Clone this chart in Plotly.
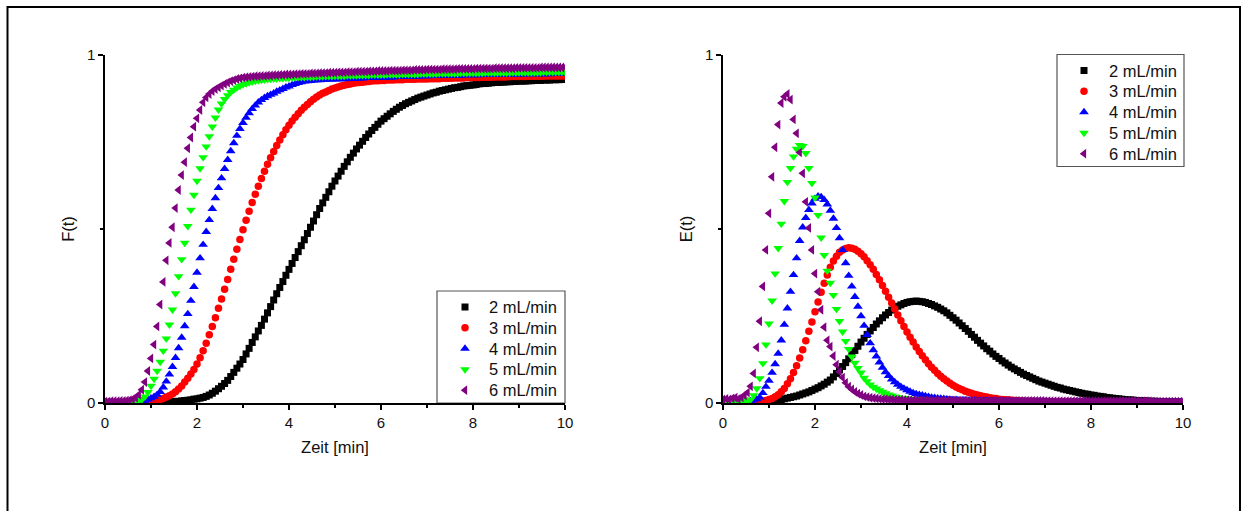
import plotly.graph_objects as go

# Sampling times (min), 4 s interval
TIME_MIN = [
    0.000, 0.067, 0.133, 0.200, 0.267, 0.333, 0.400, 0.467, 0.533, 0.600, 0.667, 0.733, 0.800, 0.867, 0.933,
    1.000, 1.067, 1.133, 1.200, 1.267, 1.333, 1.400, 1.467, 1.533, 1.600, 1.667, 1.733, 1.800, 1.867, 1.933,
    2.000, 2.067, 2.133, 2.200, 2.267, 2.333, 2.400, 2.467, 2.533, 2.600, 2.667, 2.733, 2.800, 2.867, 2.933,
    3.000, 3.067, 3.133, 3.200, 3.267, 3.333, 3.400, 3.467, 3.533, 3.600, 3.667, 3.733, 3.800, 3.867, 3.933,
    4.000, 4.067, 4.133, 4.200, 4.267, 4.333, 4.400, 4.467, 4.533, 4.600, 4.667, 4.733, 4.800, 4.867, 4.933,
    5.000, 5.067, 5.133, 5.200, 5.267, 5.333, 5.400, 5.467, 5.533, 5.600, 5.667, 5.733, 5.800, 5.867, 5.933,
    6.000, 6.067, 6.133, 6.200, 6.267, 6.333, 6.400, 6.467, 6.533, 6.600, 6.667, 6.733, 6.800, 6.867, 6.933,
    7.000, 7.067, 7.133, 7.200, 7.267, 7.333, 7.400, 7.467, 7.533, 7.600, 7.667, 7.733, 7.800, 7.867, 7.933,
    8.000, 8.067, 8.133, 8.200, 8.267, 8.333, 8.400, 8.467, 8.533, 8.600, 8.667, 8.733, 8.800, 8.867, 8.933,
    9.000, 9.067, 9.133, 9.200, 9.267, 9.333, 9.400, 9.467, 9.533, 9.600, 9.667, 9.733, 9.800, 9.867, 9.933,
    10.000,
]

FLOW_LABELS = ["2 mL/min", "3 mL/min", "4 mL/min", "5 mL/min", "6 mL/min"]

# Cumulative residence time distribution F(t)
F_2 = [
    0.000, 0.000, 0.000, 0.000, 0.000, 0.000, 0.000, 0.000, 0.000, 0.000, 0.000, 0.000, 0.001, 0.001, 0.001,
    0.001, 0.001, 0.002, 0.002, 0.002, 0.003, 0.003, 0.004, 0.004, 0.005, 0.006, 0.007, 0.008, 0.009, 0.011,
    0.012, 0.014, 0.016, 0.019, 0.023, 0.028, 0.034, 0.041, 0.048, 0.056, 0.065, 0.076, 0.088, 0.100, 0.112,
    0.125, 0.141, 0.157, 0.174, 0.190, 0.207, 0.223, 0.241, 0.259, 0.277, 0.296, 0.314, 0.332, 0.349, 0.367,
    0.384, 0.401, 0.418, 0.435, 0.452, 0.469, 0.487, 0.505, 0.523, 0.541, 0.559, 0.575, 0.591, 0.607, 0.623,
    0.638, 0.652, 0.666, 0.680, 0.693, 0.706, 0.718, 0.730, 0.741, 0.752, 0.763, 0.773, 0.783, 0.792, 0.801,
    0.810, 0.817, 0.824, 0.831, 0.838, 0.844, 0.850, 0.855, 0.860, 0.864, 0.868, 0.872, 0.876, 0.879, 0.882,
    0.885, 0.888, 0.891, 0.893, 0.896, 0.898, 0.900, 0.902, 0.904, 0.906, 0.907, 0.909, 0.911, 0.912, 0.913,
    0.914, 0.915, 0.917, 0.918, 0.918, 0.919, 0.920, 0.921, 0.921, 0.922, 0.922, 0.923, 0.923, 0.924, 0.924,
    0.925, 0.925, 0.925, 0.926, 0.926, 0.927, 0.927, 0.927, 0.928, 0.928, 0.928, 0.929, 0.929, 0.929, 0.930,
    0.930,
]
F_3 = [
    0.000, 0.000, 0.000, 0.000, 0.000, 0.000, 0.000, 0.000, 0.000, 0.000, 0.000, 0.001, 0.001, 0.002, 0.003,
    0.004, 0.005, 0.007, 0.010, 0.013, 0.017, 0.021, 0.026, 0.032, 0.040, 0.049, 0.060, 0.071, 0.083, 0.096,
    0.112, 0.130, 0.150, 0.172, 0.196, 0.220, 0.245, 0.272, 0.299, 0.327, 0.355, 0.384, 0.413, 0.442, 0.470,
    0.498, 0.525, 0.551, 0.576, 0.600, 0.623, 0.645, 0.666, 0.686, 0.705, 0.723, 0.740, 0.756, 0.771, 0.785,
    0.798, 0.810, 0.821, 0.831, 0.841, 0.850, 0.858, 0.866, 0.873, 0.879, 0.885, 0.890, 0.894, 0.898, 0.902,
    0.905, 0.908, 0.911, 0.913, 0.915, 0.917, 0.919, 0.920, 0.921, 0.922, 0.923, 0.924, 0.925, 0.926, 0.926,
    0.927, 0.927, 0.928, 0.928, 0.928, 0.929, 0.929, 0.929, 0.930, 0.930, 0.930, 0.930, 0.931, 0.931, 0.931,
    0.931, 0.932, 0.932, 0.932, 0.932, 0.933, 0.933, 0.933, 0.933, 0.934, 0.934, 0.934, 0.934, 0.935, 0.935,
    0.935, 0.935, 0.935, 0.936, 0.936, 0.936, 0.936, 0.937, 0.937, 0.937, 0.937, 0.937, 0.938, 0.938, 0.938,
    0.938, 0.938, 0.938, 0.939, 0.939, 0.939, 0.939, 0.939, 0.939, 0.940, 0.940, 0.940, 0.940, 0.940, 0.940,
    0.940,
]
F_4 = [
    0.002, 0.002, 0.002, 0.002, 0.002, 0.002, 0.002, 0.002, 0.002, 0.003, 0.004, 0.005, 0.006, 0.007, 0.010,
    0.014, 0.018, 0.024, 0.032, 0.045, 0.062, 0.082, 0.104, 0.130, 0.158, 0.188, 0.221, 0.256, 0.294, 0.334,
    0.375, 0.416, 0.455, 0.492, 0.526, 0.558, 0.589, 0.618, 0.646, 0.673, 0.699, 0.724, 0.747, 0.768, 0.788,
    0.805, 0.820, 0.833, 0.845, 0.855, 0.864, 0.871, 0.877, 0.882, 0.886, 0.890, 0.895, 0.899, 0.903, 0.907,
    0.910, 0.914, 0.917, 0.920, 0.922, 0.924, 0.925, 0.926, 0.927, 0.928, 0.928, 0.929, 0.929, 0.930, 0.930,
    0.930, 0.931, 0.931, 0.931, 0.932, 0.932, 0.932, 0.933, 0.933, 0.933, 0.934, 0.934, 0.934, 0.935, 0.935,
    0.935, 0.935, 0.936, 0.936, 0.936, 0.937, 0.937, 0.937, 0.937, 0.938, 0.938, 0.938, 0.938, 0.939, 0.939,
    0.939, 0.939, 0.940, 0.940, 0.940, 0.940, 0.940, 0.941, 0.941, 0.941, 0.941, 0.941, 0.942, 0.942, 0.942,
    0.942, 0.942, 0.942, 0.943, 0.943, 0.943, 0.943, 0.943, 0.943, 0.944, 0.944, 0.944, 0.944, 0.944, 0.944,
    0.944, 0.944, 0.945, 0.945, 0.945, 0.945, 0.945, 0.945, 0.945, 0.945, 0.945, 0.946, 0.946, 0.946, 0.946,
    0.946,
]
F_5 = [
    0.002, 0.002, 0.002, 0.002, 0.002, 0.002, 0.002, 0.002, 0.002, 0.003, 0.004, 0.006, 0.010, 0.018, 0.031,
    0.049, 0.069, 0.092, 0.118, 0.150, 0.185, 0.225, 0.268, 0.315, 0.364, 0.413, 0.460, 0.508, 0.555, 0.598,
    0.638, 0.674, 0.706, 0.737, 0.766, 0.794, 0.820, 0.843, 0.860, 0.873, 0.884, 0.893, 0.900, 0.906, 0.911,
    0.915, 0.918, 0.921, 0.923, 0.925, 0.927, 0.928, 0.929, 0.930, 0.931, 0.932, 0.932, 0.933, 0.933, 0.934,
    0.934, 0.935, 0.935, 0.936, 0.936, 0.936, 0.937, 0.937, 0.937, 0.938, 0.938, 0.938, 0.939, 0.939, 0.939,
    0.940, 0.940, 0.940, 0.940, 0.941, 0.941, 0.941, 0.941, 0.942, 0.942, 0.942, 0.942, 0.943, 0.943, 0.943,
    0.943, 0.943, 0.944, 0.944, 0.944, 0.944, 0.944, 0.945, 0.945, 0.945, 0.945, 0.945, 0.945, 0.946, 0.946,
    0.946, 0.946, 0.946, 0.946, 0.947, 0.947, 0.947, 0.947, 0.947, 0.947, 0.947, 0.948, 0.948, 0.948, 0.948,
    0.948, 0.948, 0.948, 0.948, 0.949, 0.949, 0.949, 0.949, 0.949, 0.949, 0.949, 0.949, 0.949, 0.950, 0.950,
    0.950, 0.950, 0.950, 0.950, 0.950, 0.950, 0.950, 0.950, 0.951, 0.951, 0.951, 0.951, 0.951, 0.951, 0.951,
    0.951,
]
F_6 = [
    0.004, 0.004, 0.005, 0.005, 0.005, 0.006, 0.006, 0.007, 0.008, 0.011, 0.015, 0.024, 0.038, 0.060, 0.092,
    0.128, 0.168, 0.220, 0.283, 0.348, 0.410, 0.460, 0.505, 0.560, 0.612, 0.655, 0.692, 0.732, 0.763, 0.794,
    0.818, 0.842, 0.864, 0.878, 0.888, 0.896, 0.902, 0.907, 0.912, 0.917, 0.921, 0.925, 0.928, 0.931, 0.933,
    0.935, 0.936, 0.937, 0.938, 0.939, 0.939, 0.940, 0.940, 0.941, 0.941, 0.942, 0.942, 0.943, 0.943, 0.944,
    0.944, 0.944, 0.945, 0.945, 0.946, 0.946, 0.946, 0.947, 0.947, 0.947, 0.948, 0.948, 0.948, 0.949, 0.949,
    0.949, 0.950, 0.950, 0.950, 0.951, 0.951, 0.951, 0.952, 0.952, 0.952, 0.952, 0.953, 0.953, 0.953, 0.954,
    0.954, 0.954, 0.954, 0.955, 0.955, 0.955, 0.955, 0.956, 0.956, 0.956, 0.956, 0.957, 0.957, 0.957, 0.957,
    0.958, 0.958, 0.958, 0.958, 0.958, 0.959, 0.959, 0.959, 0.959, 0.959, 0.960, 0.960, 0.960, 0.960, 0.960,
    0.960, 0.961, 0.961, 0.961, 0.961, 0.961, 0.961, 0.962, 0.962, 0.962, 0.962, 0.962, 0.962, 0.962, 0.963,
    0.963, 0.963, 0.963, 0.963, 0.963, 0.963, 0.963, 0.964, 0.964, 0.964, 0.964, 0.964, 0.964, 0.964, 0.964,
    0.965,
]

# Residence time density E(t)
E_2 = [
    0.001, 0.001, 0.001, 0.001, 0.001, 0.001, 0.001, 0.002, 0.002, 0.002, 0.003, 0.003, 0.004, 0.004, 0.005,
    0.005, 0.006, 0.008, 0.009, 0.010, 0.012, 0.014, 0.016, 0.018, 0.020, 0.023, 0.026, 0.029, 0.032, 0.036,
    0.040, 0.044, 0.049, 0.054, 0.060, 0.066, 0.075, 0.085, 0.095, 0.105, 0.116, 0.127, 0.139, 0.151, 0.163,
    0.175, 0.186, 0.197, 0.207, 0.217, 0.227, 0.236, 0.245, 0.253, 0.260, 0.267, 0.273, 0.278, 0.282, 0.286,
    0.289, 0.291, 0.292, 0.293, 0.292, 0.291, 0.289, 0.286, 0.283, 0.279, 0.275, 0.270, 0.265, 0.259, 0.252,
    0.245, 0.238, 0.230, 0.222, 0.214, 0.206, 0.197, 0.189, 0.180, 0.172, 0.164, 0.156, 0.149, 0.141, 0.134,
    0.128, 0.121, 0.115, 0.109, 0.103, 0.098, 0.093, 0.088, 0.083, 0.079, 0.075, 0.071, 0.067, 0.063, 0.060,
    0.057, 0.054, 0.051, 0.048, 0.045, 0.043, 0.040, 0.038, 0.036, 0.034, 0.032, 0.030, 0.028, 0.026, 0.025,
    0.023, 0.022, 0.020, 0.019, 0.018, 0.016, 0.015, 0.014, 0.013, 0.012, 0.011, 0.010, 0.009, 0.009, 0.008,
    0.007, 0.007, 0.006, 0.006, 0.005, 0.005, 0.005, 0.004, 0.004, 0.004, 0.003, 0.003, 0.003, 0.003, 0.002,
    0.002,
]
E_3 = [
    0.000, 0.000, 0.000, 0.000, 0.000, 0.000, 0.000, 0.001, 0.001, 0.001, 0.002, 0.002, 0.003, 0.005, 0.007,
    0.010, 0.013, 0.018, 0.024, 0.032, 0.042, 0.055, 0.070, 0.088, 0.107, 0.129, 0.153, 0.179, 0.206, 0.233,
    0.262, 0.290, 0.318, 0.344, 0.368, 0.390, 0.408, 0.422, 0.433, 0.440, 0.444, 0.446, 0.445, 0.442, 0.436,
    0.429, 0.420, 0.409, 0.397, 0.384, 0.369, 0.354, 0.338, 0.321, 0.304, 0.287, 0.270, 0.253, 0.236, 0.220,
    0.204, 0.189, 0.175, 0.161, 0.148, 0.136, 0.124, 0.113, 0.103, 0.094, 0.085, 0.077, 0.070, 0.063, 0.057,
    0.051, 0.046, 0.042, 0.038, 0.034, 0.031, 0.028, 0.025, 0.023, 0.021, 0.019, 0.017, 0.015, 0.014, 0.013,
    0.011, 0.010, 0.009, 0.009, 0.008, 0.007, 0.007, 0.006, 0.006, 0.005, 0.005, 0.005, 0.004, 0.004, 0.004,
    0.004, 0.004, 0.003, 0.003, 0.003, 0.003, 0.003, 0.003, 0.003, 0.003, 0.002, 0.002, 0.002, 0.002, 0.002,
    0.002, 0.002, 0.002, 0.002, 0.002, 0.002, 0.002, 0.002, 0.002, 0.002, 0.002, 0.002, 0.002, 0.002, 0.002,
    0.002, 0.002, 0.002, 0.002, 0.002, 0.001, 0.001, 0.001, 0.001, 0.001, 0.001, 0.001, 0.001, 0.001, 0.001,
    0.001,
]
E_4 = [
    0.002, 0.002, 0.002, 0.002, 0.002, 0.002, 0.003, 0.003, 0.004, 0.006, 0.008, 0.011, 0.016, 0.029, 0.047,
    0.064, 0.087, 0.112, 0.142, 0.180, 0.225, 0.272, 0.320, 0.368, 0.416, 0.466, 0.505, 0.532, 0.555, 0.574,
    0.587, 0.594, 0.592, 0.584, 0.571, 0.553, 0.530, 0.503, 0.474, 0.440, 0.402, 0.366, 0.335, 0.305, 0.277,
    0.250, 0.222, 0.196, 0.172, 0.152, 0.134, 0.117, 0.102, 0.089, 0.078, 0.068, 0.060, 0.053, 0.047, 0.042,
    0.037, 0.033, 0.029, 0.026, 0.024, 0.022, 0.020, 0.018, 0.016, 0.015, 0.014, 0.013, 0.012, 0.011, 0.010,
    0.009, 0.009, 0.008, 0.008, 0.008, 0.007, 0.007, 0.007, 0.006, 0.006, 0.006, 0.006, 0.005, 0.005, 0.005,
    0.005, 0.005, 0.005, 0.005, 0.005, 0.004, 0.004, 0.004, 0.004, 0.004, 0.004, 0.004, 0.004, 0.004, 0.004,
    0.004, 0.003, 0.003, 0.003, 0.003, 0.003, 0.003, 0.003, 0.003, 0.003, 0.003, 0.003, 0.003, 0.003, 0.003,
    0.003, 0.003, 0.003, 0.003, 0.003, 0.003, 0.003, 0.003, 0.003, 0.003, 0.003, 0.003, 0.003, 0.003, 0.003,
    0.003, 0.003, 0.003, 0.003, 0.003, 0.002, 0.002, 0.002, 0.002, 0.002, 0.002, 0.002, 0.002, 0.002, 0.002,
    0.002,
]
E_5 = [
    0.004, 0.004, 0.004, 0.005, 0.005, 0.005, 0.006, 0.006, 0.007, 0.010, 0.022, 0.042, 0.071, 0.114, 0.168,
    0.228, 0.294, 0.372, 0.445, 0.515, 0.580, 0.635, 0.675, 0.708, 0.730, 0.741, 0.738, 0.718, 0.675, 0.632,
    0.590, 0.540, 0.475, 0.425, 0.380, 0.345, 0.310, 0.270, 0.235, 0.205, 0.178, 0.155, 0.133, 0.115, 0.100,
    0.087, 0.072, 0.062, 0.053, 0.046, 0.041, 0.036, 0.032, 0.028, 0.024, 0.021, 0.018, 0.016, 0.015, 0.014,
    0.013, 0.012, 0.011, 0.010, 0.010, 0.009, 0.009, 0.008, 0.008, 0.008, 0.007, 0.007, 0.007, 0.007, 0.006,
    0.006, 0.006, 0.006, 0.006, 0.006, 0.006, 0.006, 0.006, 0.006, 0.006, 0.006, 0.006, 0.006, 0.006, 0.006,
    0.006, 0.006, 0.005, 0.005, 0.005, 0.005, 0.005, 0.005, 0.005, 0.005, 0.005, 0.005, 0.005, 0.005, 0.005,
    0.005, 0.005, 0.005, 0.005, 0.005, 0.005, 0.005, 0.005, 0.005, 0.005, 0.005, 0.005, 0.005, 0.005, 0.005,
    0.004, 0.004, 0.004, 0.004, 0.004, 0.004, 0.004, 0.004, 0.004, 0.004, 0.004, 0.004, 0.004, 0.004, 0.004,
    0.004, 0.004, 0.004, 0.004, 0.004, 0.003, 0.003, 0.003, 0.003, 0.003, 0.003, 0.003, 0.003, 0.003, 0.003,
    0.003,
]
E_6 = [
    0.010, 0.012, 0.010, 0.013, 0.015, 0.012, 0.016, 0.022, 0.030, 0.048, 0.085, 0.160, 0.235, 0.335, 0.440,
    0.545, 0.650, 0.735, 0.800, 0.862, 0.880, 0.888, 0.872, 0.815, 0.775, 0.720, 0.660, 0.578, 0.503, 0.440,
    0.372, 0.320, 0.268, 0.218, 0.180, 0.162, 0.135, 0.110, 0.090, 0.073, 0.058, 0.047, 0.039, 0.032, 0.027,
    0.023, 0.019, 0.017, 0.015, 0.014, 0.013, 0.012, 0.011, 0.011, 0.010, 0.010, 0.009, 0.009, 0.009, 0.008,
    0.008, 0.008, 0.008, 0.008, 0.008, 0.008, 0.008, 0.008, 0.007, 0.007, 0.007, 0.007, 0.007, 0.007, 0.007,
    0.007, 0.007, 0.007, 0.007, 0.007, 0.006, 0.006, 0.006, 0.006, 0.006, 0.006, 0.006, 0.006, 0.006, 0.006,
    0.006, 0.006, 0.006, 0.006, 0.006, 0.006, 0.006, 0.006, 0.006, 0.006, 0.006, 0.006, 0.006, 0.006, 0.006,
    0.005, 0.005, 0.005, 0.005, 0.005, 0.005, 0.005, 0.005, 0.005, 0.005, 0.005, 0.005, 0.005, 0.005, 0.005,
    0.005, 0.005, 0.005, 0.005, 0.005, 0.005, 0.005, 0.005, 0.005, 0.005, 0.005, 0.005, 0.005, 0.005, 0.005,
    0.005, 0.005, 0.005, 0.005, 0.005, 0.004, 0.004, 0.004, 0.004, 0.004, 0.004, 0.004, 0.004, 0.004, 0.004,
    0.004,
]

F_SERIES = [F_2, F_3, F_4, F_5, F_6]
E_SERIES = [E_2, E_3, E_4, E_5, E_6]

# Marker styles per flow rate
COLORS = ["#000000", "#ff0000", "#0000ff", "#00ff00", "#800080"]
SYMBOLS = ["square", "circle", "triangle-up", "triangle-down", "triangle-left"]
SIZES = [7, 7.5, 8.5, 8.5, 8.5]

FONT = "Liberation Sans, Arial, sans-serif"
TEXT_COLOR = "#111111"

# Page geometry (px)
W, H = 1246, 511
ML, MR, MT, MB = 105, 63, 55, 108
plot_w = W - ML - MR
plot_h = H - MT - MB
left_end = 460 / plot_w
right_start = 618 / plot_w


def px_to_paper_x(px):
    return (px - ML) / plot_w


def px_to_paper_y(py):
    return 1 - (py - MT) / plot_h


fig = go.Figure()
for label, color, symbol, size, f_vals in zip(FLOW_LABELS, COLORS, SYMBOLS, SIZES, F_SERIES):
    fig.add_trace(go.Scatter(
        x=TIME_MIN, y=f_vals, mode="markers", name=label, showlegend=False,
        marker=dict(symbol=symbol, size=size, color=color, line=dict(width=0)),
        xaxis="x", yaxis="y",
    ))
for label, color, symbol, size, e_vals in zip(FLOW_LABELS, COLORS, SYMBOLS, SIZES, E_SERIES):
    fig.add_trace(go.Scatter(
        x=TIME_MIN, y=e_vals, mode="markers", name=label, showlegend=False,
        marker=dict(symbol=symbol, size=size, color=color, line=dict(width=0)),
        xaxis="x2", yaxis="y2",
    ))

# Legend boxes: frame in paper space, symbols on a pixel-space overlay axis pair (x3/y3)
LEGEND_ROW = 20.8
LEGENDS = [
    # box left, box right, box top, box bottom, symbol x, text x
    dict(x0=437, x1=565, y0=291, y1=403, sym_x=465, txt_x=487),
    dict(x0=1057, x1=1184, y0=54.5, y1=166.5, sym_x=1084, txt_x=1107),
]
for lg in LEGENDS:
    fig.add_shape(
        type="rect", xref="paper", yref="paper",
        x0=px_to_paper_x(lg["x0"]), x1=px_to_paper_x(lg["x1"]),
        y0=px_to_paper_y(lg["y1"]), y1=px_to_paper_y(lg["y0"]),
        line=dict(color="#555555", width=1.2), fillcolor="#ffffff", layer="below",
    )
    first_row = lg["y0"] + 16
    for i, (label, color, symbol, size) in enumerate(zip(FLOW_LABELS, COLORS, SYMBOLS, SIZES)):
        row_y = first_row + i * LEGEND_ROW
        fig.add_trace(go.Scatter(
            x=[lg["sym_x"]], y=[row_y], mode="markers", showlegend=False, hoverinfo="skip",
            marker=dict(symbol=symbol, size=size, color=color, line=dict(width=0)),
            xaxis="x3", yaxis="y3", cliponaxis=False,
        ))
        fig.add_annotation(
            x=px_to_paper_x(lg["txt_x"]), y=px_to_paper_y(row_y), xref="paper", yref="paper",
            text=label, showarrow=False, xanchor="left", yanchor="middle",
            font=dict(family=FONT, size=16.5, color=TEXT_COLOR),
        )


def xaxis_style(domain, anchor):
    return dict(
        domain=domain, anchor=anchor, range=[0, 10], tick0=0, dtick=2,
        showline=True, linecolor="#000", linewidth=1.5,
        ticks="outside", ticklen=5, tickwidth=1.5, tickcolor="#000",
        minor=dict(ticks="outside", dtick=1, ticklen=3, tickwidth=1.5, tickcolor="#000", showgrid=False),
        showgrid=False, zeroline=False,
        tickfont=dict(family=FONT, size=15, color=TEXT_COLOR),
        title=dict(text="Zeit [min]", font=dict(family=FONT, size=16.5, color=TEXT_COLOR), standoff=12),
        automargin=False,
    )


def yaxis_style(anchor, title):
    return dict(
        domain=[0, 1], anchor=anchor, range=[0, 1], tick0=0, dtick=1,
        showline=True, linecolor="#000", linewidth=1.5,
        ticks="outside", ticklen=5, tickwidth=1.5, tickcolor="#000",
        minor=dict(ticks="outside", dtick=0.5, ticklen=3, tickwidth=1.5, tickcolor="#000", showgrid=False),
        showgrid=False, zeroline=False,
        tickfont=dict(family=FONT, size=15, color=TEXT_COLOR),
        title=dict(text=title, font=dict(family=FONT, size=16.5, color=TEXT_COLOR), standoff=8),
        automargin=False,
    )


fig.update_layout(
    width=W, height=H,
    margin=dict(l=ML, r=MR, t=MT, b=MB),
    paper_bgcolor="#ffffff", plot_bgcolor="rgba(0,0,0,0)",
    showlegend=False,
    xaxis=xaxis_style([0, left_end], "y"),
    yaxis=yaxis_style("x", "F(t)"),
    xaxis2=xaxis_style([right_start, 1], "y2"),
    yaxis2=yaxis_style("x2", "E(t)"),
    xaxis3=dict(domain=[0, 1], anchor="y3", range=[ML, W - MR], visible=False, fixedrange=True),
    yaxis3=dict(domain=[0, 1], anchor="x3", range=[H - MB, MT], visible=False, fixedrange=True),
)

# Frame around the whole figure
fig.add_shape(
    type="rect", xref="paper", yref="paper",
    x0=px_to_paper_x(7.5), x1=px_to_paper_x(1240),
    y0=px_to_paper_y(525), y1=px_to_paper_y(7),
    line=dict(color="#000", width=2), fillcolor="rgba(0,0,0,0)", layer="below",
)

fig.write_html("out.html")
